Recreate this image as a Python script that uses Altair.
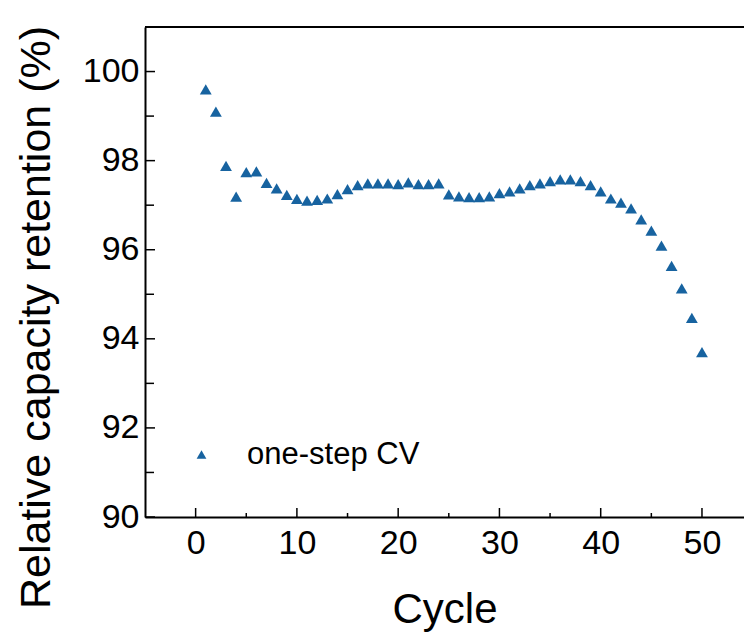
import altair as alt
import pandas as pd

# ---- data ----
cycles = list(range(1, 51))
retention = [
    99.60, 99.10, 97.88, 97.19, 97.74, 97.76, 97.50, 97.38, 97.23, 97.14,
    97.10, 97.12, 97.15, 97.25, 97.36, 97.45, 97.49, 97.49, 97.49, 97.47,
    97.51, 97.47, 97.47, 97.49, 97.24, 97.20, 97.18, 97.18, 97.20, 97.27,
    97.31, 97.38, 97.45, 97.49, 97.54, 97.58, 97.58, 97.54, 97.45, 97.31,
    97.15, 97.06, 96.93, 96.68, 96.43, 96.09, 95.64, 95.13, 94.47, 93.70,
]
series_name = "one-step CV"

x_major = [0, 10, 20, 30, 40, 50]
x_minor = [5, 15, 25, 35, 45]
y_major = [90, 92, 94, 96, 98, 100]
y_minor = [91, 93, 95, 97, 99]

BLUE = "#1763a0"
FONT = "Liberation Sans"
W, H = 599, 490

df = pd.DataFrame({"cycle": cycles, "ret": retention, "series": [series_name] * len(cycles)})

xscale = alt.Scale(domain=[-5, 54.15], nice=False, zero=False)
yscale = alt.Scale(domain=[90, 101], nice=False, zero=False)

x_axis = alt.Axis(
    values=x_major, tickSize=0, labelFontSize=34, labelPadding=9, labelColor="black",
    labelFont=FONT, domainColor="black", domainWidth=2, grid=False,
    title="Cycle", titleFont=FONT, titleFontSize=42, titleFontWeight="normal",
    titleColor="black", titleBaseline="alphabetic", titleY=105,
)
y_axis = alt.Axis(
    values=y_major, tickSize=0, labelFontSize=34, labelPadding=6, labelColor="black",
    labelFont=FONT, domainColor="black", domainWidth=2, grid=False,
    title="Relative capacity retention (%)", titleFont=FONT, titleFontSize=43,
    titleFontWeight="normal", titleColor="black", titleAngle=270,
    titleBaseline="alphabetic", titleAlign="center", titleX=-96, titleY=290,
)

X = alt.X("cycle:Q", scale=xscale, axis=x_axis)
Y = alt.Y("ret:Q", scale=yscale, axis=y_axis)

points = alt.Chart(df).mark_point(
    shape="triangle-up", filled=True, size=140, opacity=1
).encode(
    x=X, y=Y,
    color=alt.Color(
        "series:N",
        scale=alt.Scale(domain=[series_name], range=[BLUE]),
        legend=alt.Legend(
            title=None, orient="none", legendX=41, legendY=412,
            symbolType="triangle-up", symbolSize=95, symbolFillColor=BLUE,
            symbolStrokeWidth=0, labelFont=FONT, labelFontSize=31,
            labelColor="black", labelOffset=30, labelLimit=0,
        ),
    ),
)

def xticks(vals, length):
    d = pd.DataFrame({"cycle": vals})
    return alt.Chart(d).mark_rule(color="black", strokeWidth=1.5).encode(
        x=X, y=alt.value(H), y2=alt.value(H - length)
    )

def yticks(vals, length):
    d = pd.DataFrame({"ret": vals})
    return alt.Chart(d).mark_rule(color="black", strokeWidth=1.5).encode(
        y=Y, x=alt.value(0), x2=alt.value(length)
    )

top_border = alt.Chart(pd.DataFrame({"cycle": [-5]})).mark_rule(
    color="black", strokeWidth=2
).encode(x=alt.value(0), x2=alt.value(W), y=alt.value(0))

chart = alt.layer(
    top_border,
    xticks(x_major, 9), xticks(x_minor, 4),
    yticks(y_major, 10), yticks(y_minor, 9),
    points,
).properties(
    width=W, height=H,
    autosize=alt.AutoSizeParams(type="none"),
    padding={"left": 145, "top": 27, "right": 0, "bottom": 115},
    background="white",
).configure_view(stroke=None)

chart.save("out.html", embed_options={"renderer": "svg", "actions": False})
